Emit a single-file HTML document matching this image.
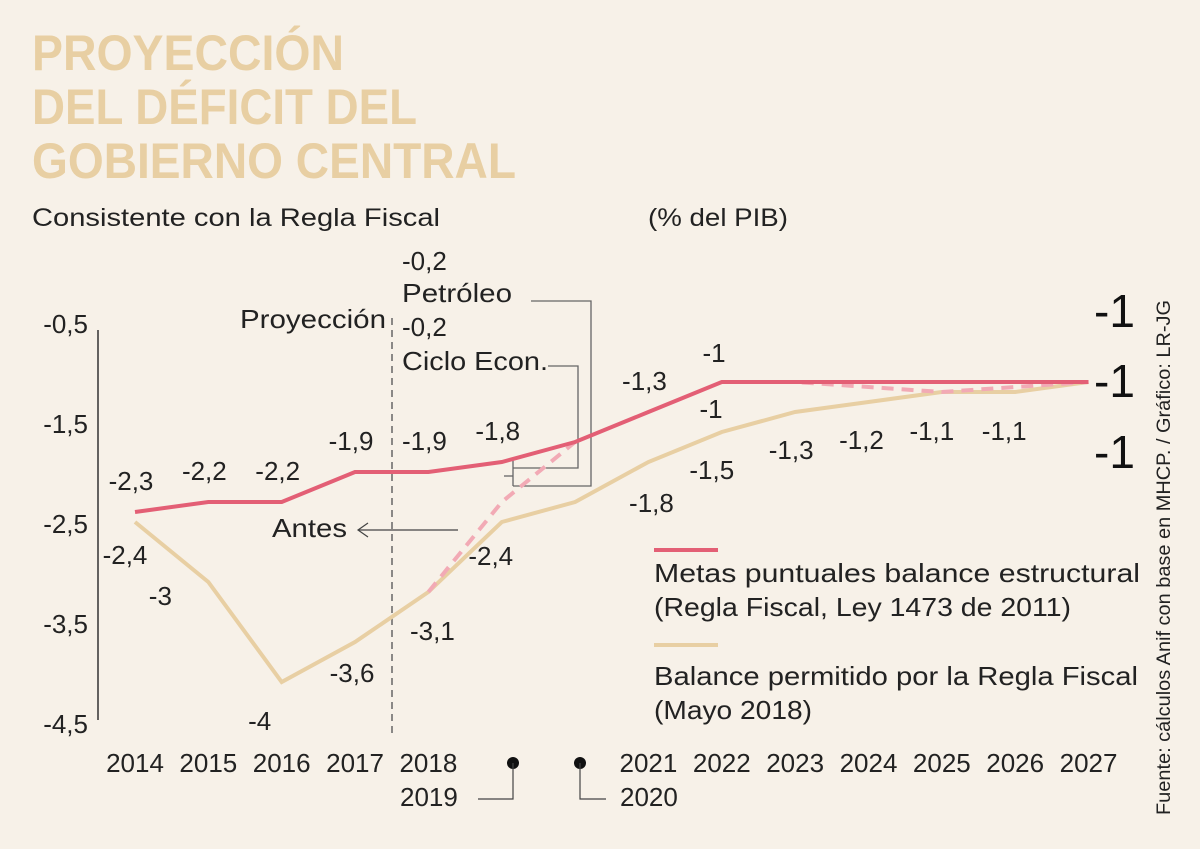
<!DOCTYPE html>
<html><head><meta charset="utf-8"><style>
html,body{margin:0;padding:0;background:#f7f1e8;}
svg{display:block;font-family:"Liberation Sans",sans-serif;}
</style></head><body>
<svg id="chart" width="1200" height="849" viewBox="0 0 1200 849" xmlns="http://www.w3.org/2000/svg">
<rect width="1200" height="849" fill="#f7f1e8"/>
<g fill="#e8cfa3" font-weight="bold" font-size="50">
<text x="32" y="70" textLength="312" lengthAdjust="spacingAndGlyphs">PROYECCIÓN</text>
<text x="32" y="124" textLength="385" lengthAdjust="spacingAndGlyphs">DEL DÉFICIT DEL</text>
<text x="32" y="178" textLength="484" lengthAdjust="spacingAndGlyphs">GOBIERNO CENTRAL</text>
</g>
<text x="32" y="226" font-size="25" fill="#222" textLength="408" lengthAdjust="spacingAndGlyphs">Consistente con la Regla Fiscal</text>
<text x="648" y="226" font-size="25" fill="#222" textLength="140" lengthAdjust="spacingAndGlyphs">(% del PIB)</text>
<line x1="98" y1="330" x2="98" y2="720" stroke="#333" stroke-width="1.5"/>
<g id="yticks" font-size="26" fill="#222"></g>
<g id="xticks" font-size="26" fill="#222"></g>
<line x1="392" y1="318" x2="392" y2="735" stroke="#666" stroke-width="1.5" stroke-dasharray="7,5"/>
<text x="240" y="328" font-size="26" fill="#222" textLength="146" lengthAdjust="spacingAndGlyphs">Proyección</text>
<text x="272" y="537" font-size="26" fill="#222" textLength="75" lengthAdjust="spacingAndGlyphs">Antes</text>
<line x1="358" y1="530" x2="458" y2="530" stroke="#444" stroke-width="1.2"/>
<polyline points="368,523 358,530 368,537" fill="none" stroke="#444" stroke-width="1.2"/>
<g font-size="26" fill="#222">
<text x="402" y="270">-0,2</text>
<text x="402" y="302" textLength="110" lengthAdjust="spacingAndGlyphs">Petróleo</text>
<text x="402" y="336">-0,2</text>
<text x="402" y="370" textLength="146" lengthAdjust="spacingAndGlyphs">Ciclo Econ.</text>
</g>
<g fill="none" stroke="#666" stroke-width="1.3">
<polyline points="531,301 591,301 591,486 513,486"/>
<polyline points="548,366 578,366 578,468 513,468"/>
<polyline points="513,460 513,486"/>
<line x1="504" y1="476" x2="513" y2="476"/>
</g>
<g id="lines"></g>
<g id="labels" font-size="26" fill="#222"></g>
<g font-size="46" fill="#111">
<text x="1094" y="327">-1</text><text x="1094" y="397">-1</text><text x="1094" y="468">-1</text>
</g>
<line x1="654" y1="550" x2="718" y2="550" stroke="#e35f75" stroke-width="4"/>
<text x="654" y="582" font-size="26" fill="#222" textLength="486" lengthAdjust="spacingAndGlyphs">Metas puntuales balance estructural</text>
<text x="654" y="616" font-size="26" fill="#222" textLength="417" lengthAdjust="spacingAndGlyphs">(Regla Fiscal, Ley 1473 de 2011)</text>
<line x1="654" y1="645" x2="718" y2="645" stroke="#e8cfa3" stroke-width="4"/>
<text x="654" y="685" font-size="26" fill="#222" textLength="484" lengthAdjust="spacingAndGlyphs">Balance permitido por la Regla Fiscal</text>
<text x="654" y="719" font-size="26" fill="#222" textLength="158" lengthAdjust="spacingAndGlyphs">(Mayo 2018)</text>
<g>
<circle cx="513" cy="763" r="6" fill="#111"/><polyline points="513,763 513,799 478,799" fill="none" stroke="#444" stroke-width="1.2"/>
<text x="400" y="806" font-size="26" fill="#222">2019</text>
<circle cx="580" cy="763" r="6" fill="#111"/><polyline points="580,763 580,799 606,799" fill="none" stroke="#444" stroke-width="1.2"/>
<text x="620" y="806" font-size="26" fill="#222">2020</text>
</g>
<text transform="translate(1170,815) rotate(-90)" font-size="19" fill="#222" textLength="515" lengthAdjust="spacingAndGlyphs">Fuente: cálculos Anif con base en MHCP. / Gráfico: LR-JG</text>
</svg>
<script>
const years=[2014,2015,2016,2017,2018,2019,2020,2021,2022,2023,2024,2025,2026,2027];
const metas=[-2.3,-2.2,-2.2,-1.9,-1.9,-1.8,-1.6,-1.3,-1.0,-1.0,-1.0,-1.0,-1.0,-1.0];
const balance=[-2.4,-3,-4,-3.6,-3.1,-2.4,-2.2,-1.8,-1.5,-1.3,-1.2,-1.1,-1.1,-1.0];
const ajustado=[null,null,null,null,-3.1,-2.2,-1.6,null,-1.0,-1.0,-1.05,-1.1,-1.05,-1.0];
const metasLabels=["-2,3","-2,2","-2,2","-1,9","-1,9","-1,8","","-1,3","","","","","",""];
const balanceLabels=["-2,4","-3","-4","-3,6","-3,1","-2,4","","-1,8","-1,5","-1,3","-1,2","-1,1","-1,1",""];
const yTicks=[-0.5,-1.5,-2.5,-3.5,-4.5];
const yTickLabels=["-0,5","-1,5","-2,5","-3,5","-4,5"];
const xTickYears=[2014,2015,2016,2017,2018,2021,2022,2023,2024,2025,2026,2027];
const ns="http://www.w3.org/2000/svg";
function x(yr){return 135+(yr-2014)*73.35;}
function y(v){return 332+(-0.5-v)*100;}
function mk(tag,attrs,parent){const e=document.createElementNS(ns,tag);for(const k in attrs)e.setAttribute(k,attrs[k]);parent.appendChild(e);return e;}
const yt=document.getElementById('yticks');
yTicks.forEach((v,i)=>{const t=mk('text',{x:88,y:y(v)+1,'text-anchor':'end'},yt);t.textContent=yTickLabels[i];

});
const xt=document.getElementById('xticks');
xTickYears.forEach(yr=>{const t=mk('text',{x:x(yr),y:772,'text-anchor':'middle'},xt);t.textContent=yr;

});
const lg=document.getElementById('lines');
function pts(arr){const out=[];arr.forEach((v,i)=>{if(v!==null)out.push(x(years[i]).toFixed(1)+','+y(v).toFixed(1));});return out.join(' ');}
const b=mk('polyline',{points:pts(balance),fill:'none',stroke:'#e8cfa3','stroke-width':4},lg);


function seg(a,b){return ajustado.slice(a,b+1).map((v,i)=>v===null?null:x(years[a+i]).toFixed(1)+','+y(v).toFixed(1)).filter(s=>s).join(' ');}
const d1=mk('polyline',{points:seg(4,6),fill:'none',stroke:'#f2aab5','stroke-width':4,'stroke-dasharray':'12,8'},lg);


const d2=mk('polyline',{points:seg(8,13),fill:'none',stroke:'#f2aab5','stroke-width':4,'stroke-dasharray':'12,8'},lg);


const m=mk('polyline',{points:pts(metas),fill:'none',stroke:'#e35f75','stroke-width':4},lg);


const lb=document.getElementById('labels');
metasLabels.forEach((s,i)=>{if(!s)return;const t=mk('text',{x:x(years[i])-4,y:y(metas[i])-22,'text-anchor':'middle'},lb);t.textContent=s;

});
const bOff=[[-10,42],[-48,23],[-22,48],[-3,40],[4,48],[-11,43],[0,0],[3,50],[-10,47],[-4,47],[-7,47],[-10,48],[-11,48],[0,0]];
balanceLabels.forEach((s,i)=>{if(!s)return;const t=mk('text',{x:x(years[i])+bOff[i][0],y:y(balance[i])+bOff[i][1],'text-anchor':'middle'},lb);t.textContent=s;

});
const e1=mk('text',{x:714,y:362,'text-anchor':'middle'},lb);e1.textContent='-1';


const e2=mk('text',{x:711,y:418,'text-anchor':'middle'},lb);e2.textContent='-1';


</script>
</body></html>
